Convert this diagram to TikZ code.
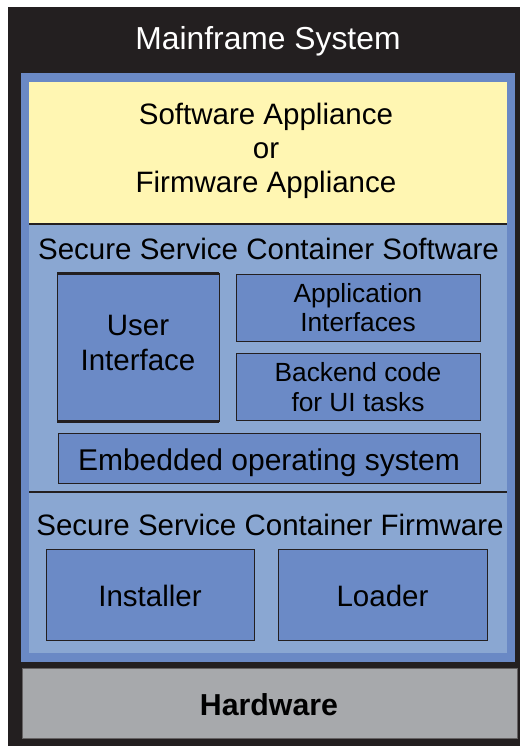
\documentclass[tikz,border=0pt]{standalone}
\usepackage{fontspec}
\setmainfont{Liberation Sans}
\definecolor{frameblk}{HTML}{231F20}
\definecolor{frameblue}{HTML}{6A89C5}
\definecolor{lightblue}{HTML}{8AA7D2}
\definecolor{boxblue}{HTML}{6B8AC6}
\definecolor{appyellow}{HTML}{FFF6B2}
\definecolor{hwgray}{HTML}{A7A9AC}
\begin{document}
\begin{tikzpicture}[x=1pt,y=-1pt,
  region/.style={draw=none, inner sep=0pt, outer sep=0pt, anchor=north west},
  box/.style={draw=frameblk, line width=0.9pt, fill=boxblue, inner sep=0pt, outer sep=0pt, anchor=north west},
  big/.style={font=\fontsize{29.5}{33.5}\selectfont, inner sep=0pt, anchor=base, text=black},
  small/.style={font=\fontsize{26.3}{30}\selectfont, inner sep=0pt, anchor=base, text=black},
  sepline/.style={draw=frameblk, line width=2.2pt},
  thickedge/.style={draw=frameblk, line width=3pt}]
\useasboundingbox (0,0) rectangle (520,746);
\fill[white] (0,0) rectangle (520,746);
% outer frame
\node[region, fill=frameblk, minimum width=512pt, minimum height=739pt] (outer) at (8,7) {};
\node[region, fill=frameblue, minimum width=494pt, minimum height=589pt] (bluefr) at (21,73) {};
\node[region, fill=appyellow, minimum width=478pt, minimum height=142pt] (yellow) at (29,82) {};
\node[region, fill=lightblue, minimum width=478pt, minimum height=428pt] (lblue) at (29,225) {};
\node[region, fill=hwgray, draw=frameblk!70, line width=0.6pt, minimum width=495pt, minimum height=70pt] (hw) at (22,668) {};
% separators
\coordinate (s1a) at (29,224); \coordinate (s1b) at (507,224);
\coordinate (s2a) at (29,492); \coordinate (s2b) at (507,492);
\draw[sepline] (s1a) -- (s1b);
\draw[sepline] (s2a) -- (s2b);
% inner boxes
\node[box, minimum width=162pt, minimum height=148pt] (ui) at (57,273) {};
\draw[thickedge] (ui.north west) -- (ui.north east);
\draw[thickedge] (ui.south west) -- (ui.south east);
\node[box, minimum width=244pt, minimum height=67pt] (api) at (236,274) {};
\node[box, minimum width=244pt, minimum height=67pt] (backend) at (236,353) {};
\node[box, minimum width=422pt, minimum height=50pt] (eos) at (58,433) {};
\node[box, minimum width=208pt, minimum height=91pt] (inst) at (46,549) {};
\node[box, minimum width=209pt, minimum height=91pt] (load) at (278,549) {};
% texts
\node[big, text=white, font=\fontsize{31.8}{35}\selectfont] (tmain) at (268,50) {Mainframe System};
\node[big] (tsw) at (266,125) {Software Appliance};
\node[big] (tor) at (266,158.5) {or};
\node[big] (tfw) at (266,192) {Firmware Appliance};
\node[big] (tssw) at (268.5,259.3) {Secure Service Container Software};
\node[big] (tuser) at (138,335) {User};
\node[big] (tinter) at (138,370) {Interface};
\node[small] (tapp) at (358,302.7) {Application};
\node[small] (tapi) at (358,331.7) {Interfaces};
\node[small] (tback) at (358,381.7) {Backend code};
\node[small] (tforui) at (358,411.7) {for UI tasks};
\node[big, font=\fontsize{30}{34}\selectfont] (teos) at (269,470) {Embedded operating system};
\node[big] (tssf) at (270,535) {Secure Service Container Firmware};
\node[big] (tinst) at (150,606) {Installer};
\node[big] (tload) at (382.5,606) {Loader};
\node[big, font=\fontsize{30.3}{34}\selectfont\bfseries] (thw) at (269,715) {Hardware};
\end{tikzpicture}
\end{document}
